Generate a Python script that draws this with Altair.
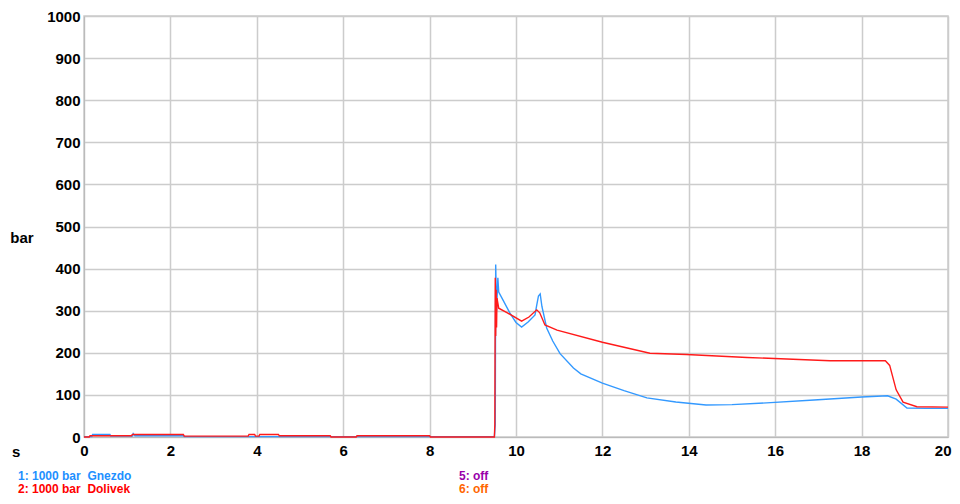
import altair as alt
import pandas as pd

# Gnezdo (channel 1) - time [s], pressure [bar]
gnezdo_t = [0, 0.18, 0.2, 0.6, 0.62, 1.12, 1.14, 1.18, 2.3, 2.32, 9.5, 9.52, 9.53, 9.55, 9.58, 9.6,
            9.7, 9.86, 10.0, 10.13, 10.28, 10.44, 10.48, 10.52, 10.56, 10.6, 10.71, 10.85, 11.02,
            11.33, 11.5, 12.0, 12.5, 13.03, 13.7, 14.4, 15.0, 15.8, 16.9, 18.0, 18.6, 18.8, 19.05,
            19.5, 20]
gnezdo_v = [1, 1, 6, 6, 2, 2, 8, 3, 3, 1, 1, 30, 410, 300, 378, 344,
            325, 294, 272, 261, 273, 290, 313, 335, 340, 310, 259, 228, 198,
            164, 150, 128, 110, 93, 83, 76, 77, 81, 88, 95, 98, 90, 69,
            68, 68]

# Dolivek (channel 2)
dolivek_t = [0, 0.12, 0.14, 1.1, 1.12, 2.3, 2.32, 3.8, 3.82, 3.95, 3.97, 4.05, 4.07, 4.5, 4.52,
             5.7, 5.72, 6.3, 6.32, 8.0, 8.02, 9.5, 9.51, 9.52, 9.53, 9.54, 9.55, 9.56, 9.6, 9.8,
             10.13, 10.3, 10.48, 10.55, 10.67, 10.95, 12.0, 13.1, 13.95, 15.35, 17.27, 18.55,
             18.65, 18.8, 18.96, 19.28, 20]
dolivek_v = [0, 0, 3, 3, 6, 6, 2, 2, 6, 6, 2, 2, 6, 6, 3,
             3, 0, 0, 3, 3, 0, 0, 30, 378, 240, 350, 260, 330, 306, 295,
             275, 285, 302, 295, 266, 254, 225, 199, 196, 189, 181, 181,
             170, 112, 83, 72, 71]

series_names = ["Gnezdo", "Dolivek"]
series_colors = ["#3399ff", "#ff1a1a"]

x_ticks = [0, 2, 4, 6, 8, 10, 12, 14, 16, 18, 20]
y_ticks = [0, 100, 200, 300, 400, 500, 600, 700, 800, 900, 1000]

legend_lines = ["1: 1000 bar\u00a0 Gnezdo", "2: 1000 bar\u00a0 Dolivek", "5: off", "6: off"]
legend_colors = ["#1e90ff", "#ff0000", "#9900aa", "#ff6600"]

df = pd.concat([
    pd.DataFrame({"t": gnezdo_t, "v": gnezdo_v, "s": series_names[0], "o": 0}),
    pd.DataFrame({"t": dolivek_t, "v": dolivek_v, "s": series_names[1], "o": 1}),
])

FONT = "Liberation Sans"
FS = 15

axis_common = dict(title=None, grid=True, ticks=False, labelFontWeight="bold",
                   labelFontSize=FS, labelFont=FONT, labelColor="#000000",
                   domainColor="#bbbbbb", gridColor="#cccccc", gridWidth=1.5,
                   labelFlush=False, format="d")

lines = alt.Chart(df).mark_line(strokeWidth=1.4, interpolate="linear").encode(
    x=alt.X("t:Q", scale=alt.Scale(domain=[0, 20], nice=False),
            axis=alt.Axis(values=x_ticks, labelPadding=6,
                          labelAlign=alt.ExprRef("datum.value == 20 ? 'right' : 'center'"),
                          labelOffset=alt.ExprRef("datum.value == 20 ? 3 : 0"),
                          **axis_common)),
    y=alt.Y("v:Q", scale=alt.Scale(domain=[0, 1000], nice=False),
            axis=alt.Axis(values=y_ticks, labelPadding=4, **axis_common)),
    color=alt.Color("s:N", scale=alt.Scale(domain=series_names, range=series_colors), legend=None),
    order=alt.Order("o:Q"),
    detail="s:N",
)

dummy = alt.Data(values=[{}])

def label(txt, x, y, color, align="left", size=FS):
    return alt.Chart(dummy).mark_text(
        text=txt, font=FONT, fontWeight="bold", fontSize=size, color=color,
        align=align, baseline="middle"
    ).encode(x=alt.value(x), y=alt.value(y))

LS = 12
texts = [
    label("s", -72, 436, "#000000"),
    label("bar", -62, 222, "#000000", align="center"),
    label(legend_lines[0], -66, 460, legend_colors[0], size=LS),
    label(legend_lines[1], -66, 473, legend_colors[1], size=LS),
    label(legend_lines[2], 375, 460, legend_colors[2], size=LS),
    label(legend_lines[3], 375, 473, legend_colors[3], size=LS),
]

chart = alt.layer(lines, *texts).properties(
    width=864, height=421,
    autosize=alt.AutoSizeParams(type="none"),
    padding={"left": 76, "top": 8, "right": 4, "bottom": 59},
).configure_view(stroke="#cccccc", strokeWidth=1.5)

chart.save("out.html", embed_options={"renderer": "svg", "actions": False})
